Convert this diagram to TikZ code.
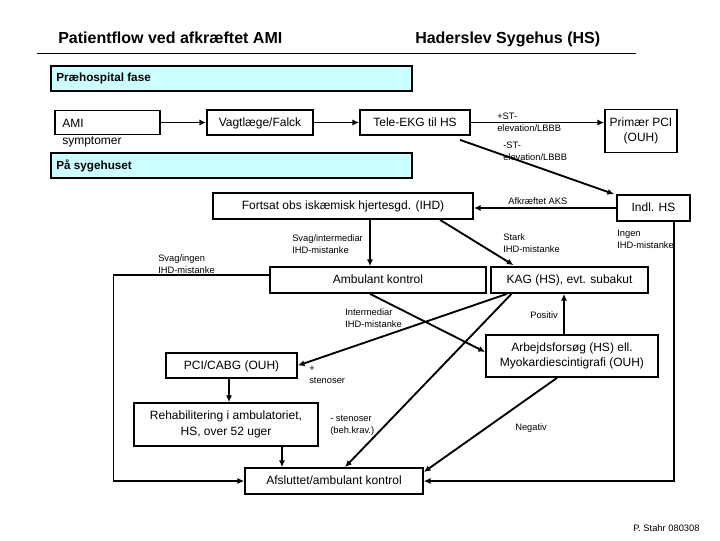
\documentclass[tikz,border=0pt]{standalone}
\usepackage{fontspec}
\setmainfont{Liberation Sans}
\usetikzlibrary{arrows.meta,calc}
\definecolor{bandc}{RGB}{204,255,255}
\tikzset{
  box/.style={draw, line width=1.3pt, inner sep=0pt, align=center, font=\fontsize{9}{11.5}\selectfont},
  one/.style={text height=6.6pt, text depth=1.2pt},
  band/.style={draw, line width=1.3pt, fill=bandc, inner sep=0pt},
  arr/.style={line width=1.4pt, -{Latex[length=5pt,width=4.5pt]}},
  thinarr/.style={line width=0.8pt, -{Latex[length=5pt,width=4.5pt]}},
  lbl/.style={font=\fontsize{7}{9}\selectfont, align=left, inner sep=0pt, anchor=west},
  bandlbl/.style={font=\bfseries\fontsize{8.8}{10}\selectfont, inner sep=0pt, anchor=west},
  ttl/.style={font=\bfseries\fontsize{12}{14}\selectfont, inner sep=0pt, anchor=base west}
}
\begin{document}
\begin{tikzpicture}[x=0.75pt,y=-0.75pt]
\useasboundingbox (0,0) rectangle (720,540);
% titles
\node[ttl] (t1) at (58,43) {Patientflow ved afkræftet AMI};
\node[ttl] (t2) at (415,43) {Haderslev Sygehus (HS)};
\draw[line width=0.6pt] (37,53) -- (636,53);
% bands
\node[band, minimum width={361*0.75pt}, minimum height={25*0.75pt}] (prae) at (231.5,78.5) {};
\node[bandlbl] (praet) at (56,78.5) {Præhospital fase};
\node[band, minimum width={361*0.75pt}, minimum height={25*0.75pt}] (pa) at (231.5,165.5) {};
\node[bandlbl] (pat) at (56,165.5) {På sygehuset};
% boxes
\node[box, minimum width={105*0.75pt}, minimum height={24*0.75pt}] (ami) at (107.5,122.5) {};
\node[inner sep=0pt, anchor=west, font=\fontsize{9}{11}\selectfont] (amit) at (62,123) {AMI};
\node[inner sep=0pt, anchor=west, font=\fontsize{9}{11}\selectfont] (amis) at (62,142) {symptomer};
\node[box, one, minimum width={106*0.75pt}, minimum height={25*0.75pt}] (vag) at (260,122.5) {Vagtlæge/Falck};
\node[box, one, minimum width={110*0.75pt}, minimum height={25*0.75pt}] (tele) at (415,122.5) {Tele-EKG til HS};
\node[box, minimum width={72*0.75pt}, minimum height={43*0.75pt}] (ppci) at (641,131) {Primær PCI\\(OUH)};
\node[box, one, minimum width={260*0.75pt}, minimum height={26*0.75pt}] (fort) at (343,206) {Fortsat obs iskæmisk hjertesgd. (IHD)};
\node[box, one, minimum width={73*0.75pt}, minimum height={26*0.75pt}] (indl) at (653.5,208) {Indl. HS};
\node[box, one, minimum width={216*0.75pt}, minimum height={26*0.75pt}] (amb) at (378,280) {Ambulant kontrol};
\node[box, one, minimum width={157*0.75pt}, minimum height={26*0.75pt}] (kag) at (569.5,280) {KAG (HS), evt. subakut};
\node[box, minimum width={172*0.75pt}, minimum height={42*0.75pt}] (arb) at (572,356) {Arbejdsforsøg (HS) ell.\\Myokardiescintigrafi (OUH)};
\node[box, one, minimum width={131*0.75pt}, minimum height={25*0.75pt}] (pci) at (231.5,365.5) {PCI/CABG (OUH)};
\node[box, minimum width={184*0.75pt}, minimum height={43*0.75pt}] (rehab) at (226,424.5) {Rehabilitering i ambulatoriet,\\HS, over 52 uger};
\node[box, one, minimum width={178*0.75pt}, minimum height={26*0.75pt}] (afs) at (334,481) {Afsluttet/ambulant kontrol};
% connectors
\draw[arr] (ami.east) -- (vag.west);
\draw[arr] (vag.east) -- (tele.west);
\draw[arr] (tele.east) -- (tele.east -| ppci.west);
\draw[arr] ($(tele.south)+(45,4)$) -- ($(indl.north west)+(-2,0)$);
\draw[arr] (indl.west) -- (indl.west -| fort.east);
\draw[arr] ($(fort.south)+(27,0)$) -- ($(amb.north)+(-8,0)$);
\draw[arr] ($(fort.south)+(97,0)$) -- ($(kag.north)+(-56,-1)$);
\draw[thinarr] ($(amb.west)+(0,-5)$) -- ++(-156,0) |- (afs.west);
\draw[thinarr] ($(indl.south)+(20.5,0)$) |- (afs.east);
\draw[arr] ($(amb.south)+(-8,0)$) -- ($(arb.west)+(0,-4)$);
\draw[arr] ($(kag.south)+(-62.5,0)$) -- (pci.east);
\draw[arr] ($(kag.south)+(-58,0)$) -- ($(afs.north)+(11,0)$);
\draw[arr] ($(arb.north)+(-8,0)$) -- ($(kag.south)+(-5.5,0)$);
\draw[arr] ($(arb.south)+(-15,0)$) -- ($(afs.east)+(0,-9)$);
\draw[arr] ($(pci.south)+(-2.5,0)$) -- ($(rehab.north)+(3,0)$);
\draw[arr] ($(rehab.south)+(56,0)$) -- ($(afs.north)+(-52,0)$);
% labels
\node[lbl] (l1) at (497,122) {+ST-\\elevation/LBBB};
\node[lbl] (l2) at (503,151) {-ST-\\elevation/LBBB};
\node[lbl] (l3) at (508,201) {Afkræftet AKS};
\node[lbl] (l4) at (292,244) {Svag/intermediar\\IHD-mistanke};
\node[lbl] (l5) at (503,243.5) {Stark\\IHD-mistanke};
\node[lbl] (l6) at (617,239) {Ingen\\IHD-mistanke};
\node[lbl] (l7) at (158,264) {Svag/ingen\\IHD-mistanke};
\node[lbl] (l8) at (345,318) {Intermediar\\IHD-mistanke};
\node[lbl] (l9) at (530,315) {Positiv};
\node[lbl] (l10) at (309,374.5) {+\\stenoser};
\node[lbl] (l11) at (330,425.5) {- stenoser\\(beh.krav.)};
\node[lbl] (l12) at (515,428) {Negativ};
\node[lbl] (l13) at (633,528) {P. Stahr 080308};
\end{tikzpicture}
\end{document}
